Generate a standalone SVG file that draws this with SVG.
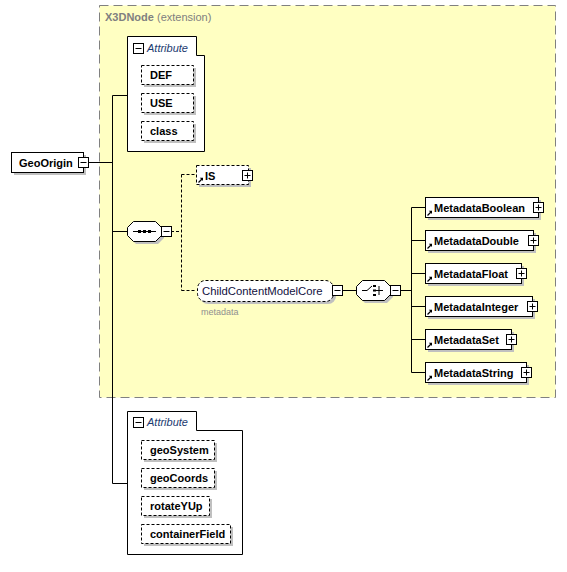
<svg xmlns="http://www.w3.org/2000/svg" width="567" height="572" viewBox="0 0 567 572">
<defs>
<style>
.t{font-family:"Liberation Sans",Arial,sans-serif;font-size:11px;font-weight:bold;fill:#000}
.n{font-family:"Liberation Sans",Arial,sans-serif;font-size:11.3px;fill:#101040}
.h{font-family:"Liberation Sans",Arial,sans-serif;font-size:11px;font-style:italic;fill:#1c3a70}
.g{font-family:"Liberation Sans",Arial,sans-serif;font-size:9px;fill:#909090}
.ti{font-family:"Liberation Sans",Arial,sans-serif;font-size:11px;fill:#808080}
.sh{fill:#c0c0c0}
.bx{fill:#fff;stroke:#000;stroke-width:1}
.dbx{fill:#fff;stroke:#000;stroke-width:1;stroke-dasharray:3,2}
.ln{stroke:#000;stroke-width:1;fill:none}
.dl{stroke:#000;stroke-width:1;fill:none;stroke-dasharray:3,2}
.pm{fill:#fff;stroke:#000;stroke-width:1}
</style>
<g id="plus"><rect class="pm" x="0" y="0" width="10" height="10"/><path class="ln" d="M2,5H8M5,2V8"/></g>
<g id="minus"><rect class="pm" x="0" y="0" width="10" height="10"/><path class="ln" d="M2,5H8"/></g>
<g id="ref"><path d="M0.5,5.5L4,2" stroke="#000" stroke-width="1.2"/><path d="M1.8,0.8L5,0.8L5,4Z" fill="#000"/></g>
</defs>

<g id="extension">
<rect x="99.5" y="5.5" width="456" height="392" fill="#ffffc2" stroke="#808080" stroke-width="1" stroke-dasharray="9,5"/>
<text x="105" y="21" class="ti"><tspan font-weight="bold">X3DNode</tspan> (extension)</text>
</g>

<g id="connectors">
<path class="ln" d="M88,162.5H112.5M112.5,95.5V483.5M112.5,95.5H127M112.5,483.5H127M112.5,231.5H127"/>
<path class="dl" d="M171,231.5H181.5M181.5,174.5V290.5M181.5,174.5H196M181.5,290.5H196"/>
<path class="ln" d="M342,290.5H357M400,290.5H411.5M411.5,207.5V372.5M411.5,207.5H425M411.5,240.5H425M411.5,273.5H425M411.5,306.5H425M411.5,339.5H425M411.5,372.5H425"/>
</g>

<g id="GeoOrigin">
<rect class="sh" x="14" y="155" width="72" height="20"/>
<rect class="bx" x="11.5" y="152.5" width="72" height="20"/>
<text x="19" y="167" class="t">GeoOrigin</text>
<use href="#minus" x="78.5" y="157.5"/>
</g>

<g id="attributes1">
<path class="bx" d="M127.5,36.5H196.5V55.5H204.5V151.5H127.5Z"/>
<use href="#minus" x="133.5" y="43.5"/>
<text x="147" y="52" class="h">Attribute</text>
<g id="DEF"><rect class="sh" x="144" y="68" width="52" height="19"/><rect class="dbx" x="141.5" y="65.5" width="52" height="19"/><text x="150" y="79" class="t">DEF</text></g>
<g id="USE"><rect class="sh" x="144" y="96" width="52" height="19"/><rect class="dbx" x="141.5" y="93.5" width="52" height="19"/><text x="150" y="107" class="t">USE</text></g>
<g id="class"><rect class="sh" x="144" y="124" width="52" height="19"/><rect class="dbx" x="141.5" y="121.5" width="52" height="19"/><text x="150" y="135" class="t">class</text></g>
</g>

<g id="sequence">
<path class="sh" d="M136,224H158L164,230V238L158,244H136L130,238V230Z"/>
<path class="bx" d="M133.5,221.5H155.5L161.5,227.5V235.5L155.5,241.5H133.5L127.5,235.5V227.5Z"/>
<path class="ln" d="M133,231.5H156"/>
<rect x="138" y="230" width="3" height="3" fill="#000"/><rect x="143" y="230" width="3" height="3" fill="#000"/><rect x="148" y="230" width="3" height="3" fill="#000"/>
<use href="#minus" x="161.5" y="226.5"/>
</g>

<g id="IS">
<rect class="sh" x="199" y="168" width="52" height="19"/>
<rect class="dbx" x="196.5" y="165.5" width="52" height="19"/>
<use href="#ref" x="198" y="177"/>
<text x="205" y="180" class="t">IS</text>
<use href="#plus" x="242.5" y="170.5"/>
</g>

<g id="ChildContentModelCore">
<rect class="sh" x="200" y="283" width="136" height="21" rx="8"/>
<rect class="dbx" x="197.5" y="280.5" width="136" height="21" rx="8"/>
<text x="202" y="295" class="n">ChildContentModelCore</text>
<use href="#minus" x="332.5" y="285.5"/>
<text x="201" y="315" class="g">metadata</text>
</g>

<g id="choice">
<path class="sh" d="M365,283H387L393,289V297L387,303H365L359,297V289Z"/>
<path class="bx" d="M362.5,280.5H384.5L390.5,286.5V294.5L384.5,300.5H362.5L356.5,294.5V286.5Z"/>
<path class="ln" d="M362,290.5H367L372,286M375,290.5H383M379,286V295"/>
<rect x="373" y="285" width="3" height="2" fill="#000"/><rect x="373" y="289.5" width="3" height="2" fill="#000"/><rect x="373" y="294" width="3" height="2" fill="#000"/>
<use href="#minus" x="390.5" y="285.5"/>
</g>

<g id="MetadataBoolean"><rect class="sh" x="428" y="200" width="113" height="20"/><rect class="bx" x="425.5" y="197.5" width="113" height="20"/><use href="#ref" x="427" y="210"/><text x="434" y="212" class="t">MetadataBoolean</text><use href="#plus" x="533.5" y="202.5"/></g>
<g id="MetadataDouble"><rect class="sh" x="428" y="233" width="108" height="20"/><rect class="bx" x="425.5" y="230.5" width="108" height="20"/><use href="#ref" x="427" y="243"/><text x="434" y="245" class="t">MetadataDouble</text><use href="#plus" x="528.5" y="235.5"/></g>
<g id="MetadataFloat"><rect class="sh" x="428" y="266" width="96" height="20"/><rect class="bx" x="425.5" y="263.5" width="96" height="20"/><use href="#ref" x="427" y="276"/><text x="434" y="278" class="t">MetadataFloat</text><use href="#plus" x="516.5" y="268.5"/></g>
<g id="MetadataInteger"><rect class="sh" x="428" y="299" width="107" height="20"/><rect class="bx" x="425.5" y="296.5" width="107" height="20"/><use href="#ref" x="427" y="309"/><text x="434" y="311" class="t">MetadataInteger</text><use href="#plus" x="527.5" y="301.5"/></g>
<g id="MetadataSet"><rect class="sh" x="428" y="332" width="86" height="20"/><rect class="bx" x="425.5" y="329.5" width="86" height="20"/><use href="#ref" x="427" y="342"/><text x="434" y="344" class="t">MetadataSet</text><use href="#plus" x="506.5" y="334.5"/></g>
<g id="MetadataString"><rect class="sh" x="428" y="365" width="101" height="20"/><rect class="bx" x="425.5" y="362.5" width="101" height="20"/><use href="#ref" x="427" y="375"/><text x="434" y="377" class="t">MetadataString</text><use href="#plus" x="521.5" y="367.5"/></g>

<g id="attributes2">
<path class="bx" d="M127.5,411.5H196.5V430.5H242.5V554.5H127.5Z"/>
<use href="#minus" x="133.5" y="417.5"/>
<text x="147" y="426" class="h">Attribute</text>
<g id="geoSystem"><rect class="sh" x="144" y="443" width="73" height="19"/><rect class="dbx" x="141.5" y="440.5" width="73" height="19"/><text x="150" y="454" class="t">geoSystem</text></g>
<g id="geoCoords"><rect class="sh" x="144" y="471" width="73" height="19"/><rect class="dbx" x="141.5" y="468.5" width="73" height="19"/><text x="150" y="482" class="t">geoCoords</text></g>
<g id="rotateYUp"><rect class="sh" x="144" y="499" width="68" height="19"/><rect class="dbx" x="141.5" y="496.5" width="68" height="19"/><text x="150" y="510" class="t">rotateYUp</text></g>
<g id="containerField"><rect class="sh" x="144" y="527" width="89" height="19"/><rect class="dbx" x="141.5" y="524.5" width="89" height="19"/><text x="150" y="538" class="t">containerField</text></g>
</g>
</svg>
